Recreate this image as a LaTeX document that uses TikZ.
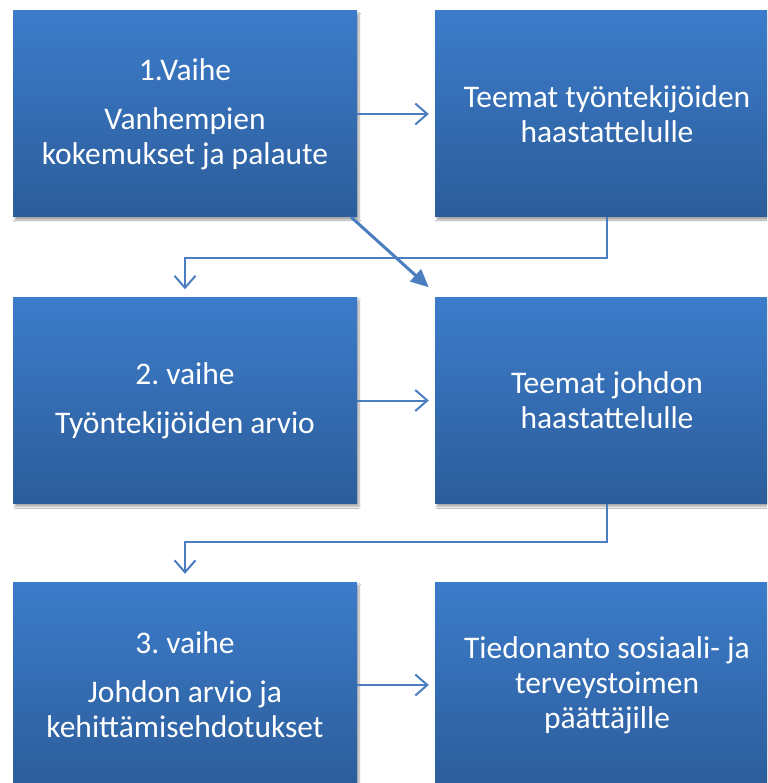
\documentclass[tikz,border=0pt]{standalone}
\usepackage{fontspec}
\setmainfont{Carlito}
\frenchspacing
\usetikzlibrary{arrows.meta,shadows.blur,calc}
\definecolor{boxtop}{HTML}{3C7CCA}
\definecolor{boxbot}{HTML}{2C5D9A}
\definecolor{arrowc}{HTML}{4A7EC1}
\tikzset{
  flowbox/.style={rectangle, minimum width=344pt, minimum height=206pt, inner sep=0pt,
    top color=boxtop, bottom color=boxbot, draw=none, text=white, align=center,
    font=\fontsize{31.5}{35}\selectfont,
    blur shadow={shadow xshift=2pt, shadow yshift=-3pt, shadow blur steps=6, shadow opacity=35}},
  openarr/.style={draw=arrowc, line width=2pt, -{Straight Barb[length=12pt,width=21pt,line width=2pt]}},
  fillarr/.style={draw=arrowc, line width=3pt, -{Triangle[length=18pt,width=16pt]}}
}
\begin{document}
\begin{tikzpicture}[x=1pt,y=1pt]
\useasboundingbox (0,0) rectangle (767,-783);
\clip (0,0) rectangle (767,-783);
\fill[white] (0,0) rectangle (767,-783);
\node[flowbox] (b1) at (185,-114) {1.Vaihe\\[14pt]Vanhempien\\kokemukset ja palaute};
\node[flowbox] (b2) at (607,-114) {Teemat työntekijöiden\\haastattelulle};
\node[flowbox] (b3) at (185,-400.5) {2. vaihe\\[14pt]Työntekijöiden arvio};
\node[flowbox] (b4) at (607,-400.5) {Teemat johdon\\haastattelulle};
\node[flowbox] (b5) at (185,-685) {3. vaihe\\[14pt]Johdon arvio ja\\kehittämisehdotukset};
\node[flowbox] (b6) at (607,-685) {Tiedonanto sosiaali- ja\\terveystoimen\\päättäjille};
\draw[openarr, shorten >=6pt] (b1.east) -- (b2.west);
\draw[openarr, shorten >=6pt] (b3.east) -- (b4.west);
\draw[openarr, shorten >=6pt] (b5.east) -- (b6.west);
\draw[openarr, shorten >=8pt] (b2.south) -- ++(0,-41) coordinate (k1) -| (b3.north);
\draw[openarr, shorten >=8pt] (b4.south) -- ++(0,-38) coordinate (k2) -| (b5.north);
\coordinate (d1) at ([xshift=-6pt]b1.south east);
\coordinate (d2) at ([shift={(-6pt,10pt)}]b4.north west);
\draw[fillarr] (d1) -- (d2);
\end{tikzpicture}
\end{document}
